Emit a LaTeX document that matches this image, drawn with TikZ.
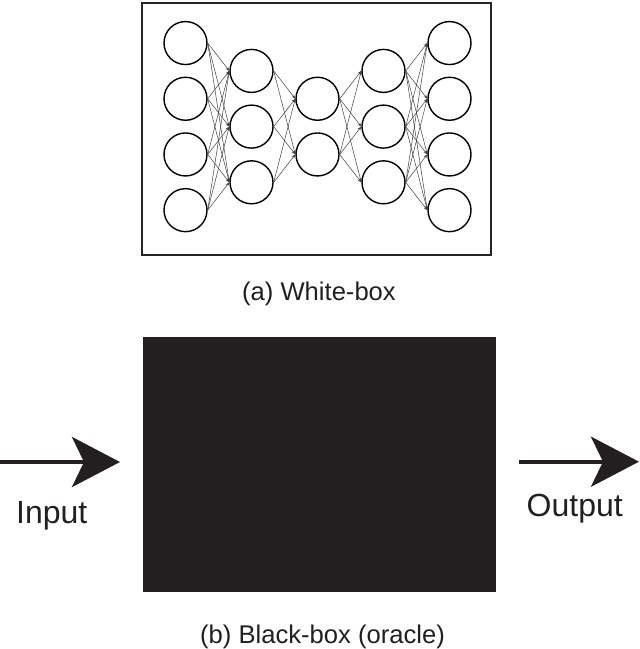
\documentclass[tikz,border=0pt]{standalone}
\usepackage{fontspec}
\setmainfont{Liberation Sans}
\usetikzlibrary{arrows.meta}
\definecolor{ink}{HTML}{231F20}
\newcommand{\lapisan}[3]{\foreach \k in {1,...,#3} \node[neuron] (#1\k) at (#2,{126.6+55.7*(\k-(#3+1)/2)}) {};}
\newcommand{\sambung}[4]{\foreach \i in {1,...,#2} \foreach \j in {1,...,#4} \draw[edge] (#1\i.east) -- (#3\j.west);}

\begin{document}
\begin{tikzpicture}[x=1pt,y=-1pt,
  neuron/.style={draw,circle,line width=1.4pt,minimum size=43pt,inner sep=0pt},
  edge/.style={black!75,line width=0.5pt,-{Stealth[length=4pt,width=3pt]}},
  bigarrow/.style={ink,line width=4pt,-{Stealth[length=48pt,width=50pt,inset=12pt]}},
  lbl/.style={anchor=base,text=ink}]
  \useasboundingbox (0,0) rectangle (640,649);

  % white box
  \node[draw=black!85,line width=1.5pt,minimum width=349pt,minimum height=252pt,inner sep=0pt] (wb) at (316.4,128.9) {};
  \lapisan{a}{185.5}{4}
  \lapisan{b}{251.5}{3}
  \lapisan{c}{317.5}{2}
  \lapisan{d}{383.5}{3}
  \lapisan{e}{449.5}{4}
  \sambung{a}{4}{b}{3}
  \sambung{b}{3}{c}{2}
  \sambung{c}{2}{d}{3}
  \sambung{d}{3}{e}{4}
  \node[lbl,font=\fontsize{25.6}{30}\selectfont] (capA) at (319,300) {(a) White-box};

  % black box
  \node[fill=ink,minimum width=352.4pt,minimum height=255pt,inner sep=0pt] (bb) at (319.5,464.2) {};
  \coordinate (inA)  at (0,462);
  \coordinate (inB)  at (120,462);
  \coordinate (outA) at (519,461.7);
  \coordinate (outB) at (639,461.7);
  \draw[bigarrow] (inA) -- (inB);
  \draw[bigarrow] (outA) -- (outB);
  \node[lbl,font=\fontsize{32}{37}\selectfont] (inp) at (51.7,523) {Input};
  \node[lbl,font=\fontsize{32}{37}\selectfont] (outp) at (574.7,516.7) {Output};
  \node[lbl,font=\fontsize{25.6}{30}\selectfont] (capB) at (322.5,643) {(b) Black-box (oracle)};
\end{tikzpicture}
\end{document}
